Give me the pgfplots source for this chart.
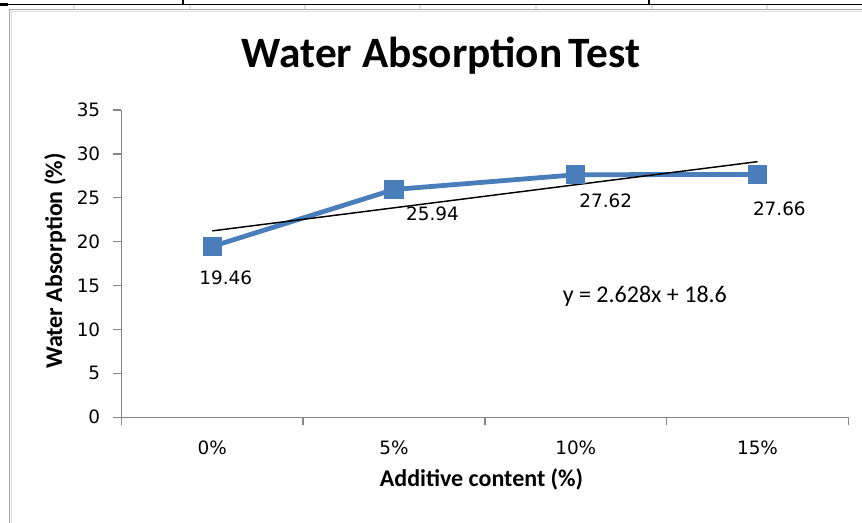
\documentclass[border=0pt]{standalone}
\usepackage{pgfplots}
\pgfplotsset{compat=1.18}
\usepackage{fontspec}
\setmainfont{Carlito}
\newfontfamily\dejavu{DejaVu Sans}
\definecolor{serblue}{HTML}{4A7EBB}
\definecolor{axgray}{HTML}{868686}
\begin{document}
\begin{tikzpicture}
\begin{scope}[x=0.75pt,y=0.75pt]
\useasboundingbox (0,0) rectangle (862,523);
% surrounding sheet decorations
\foreach \gx in {74,190,305,420,536,652,767}{\draw[gray!25, line width=0.8pt] (\gx,518.5) -- (\gx,513.5);}
\draw[black, line width=0.9pt] (0,518.5) -- (862,518.5);
\fill[black] (0,517.3) rectangle (8,519.5);
\draw[black, line width=1.2pt] (183,523) -- (183,518.5);
\draw[black, line width=1.2pt] (649,523) -- (649,518.5);
\draw[gray!70, line width=1.4pt] (9.5,0) -- (9.5,513.5) -- (862,513.5);
\draw[gray!25, line width=1pt] (11.5,0) -- (11.5,511.5) -- (862,511.5);
\node[font=\bfseries\fontsize{32.5}{34}\selectfont, anchor=base] at (441,455) {Water Absorption\hspace{-0.08em} Test};
\node[rotate=90, font=\bfseries\fontsize{18}{20}\selectfont, anchor=base] at (62,262) {Water Absorption (\%)};
\node[font=\bfseries\fontsize{18}{20}\selectfont, anchor=base] at (481.5,36.5) {Additive content (\%)};
\end{scope}
\begin{axis}[
  at={(91.05pt,79.28pt)}, anchor=south west,
  width=545.25pt, height=230.5pt, scale only axis,
  xmin=-0.5, xmax=3.5, ymin=0, ymax=35,
  axis x line*=bottom, axis y line*=left,
  axis line style={axgray, line width=1.1pt},
  tick style={axgray, line width=1.1pt},
  tick align=outside,
  major tick length=6pt,
  ytick={0,5,...,35},
  xtick={-0.5,0.5,1.5,2.5,3.5},
  xticklabel=\empty,
  extra x ticks={0,1,2,3},
  extra x tick labels={0\%,5\%,10\%,15\%},
  extra x tick style={major tick length=0pt, xticklabel style={font=\dejavu\fontsize{13.8}{14}\selectfont, anchor=north, inner sep=0pt, yshift=-17.6pt}},
  yticklabel style={font=\dejavu\fontsize{13.8}{14}\selectfont, anchor=east, inner sep=0pt, xshift=-9.7pt},
  /pgf/number format/assume math mode=true,
  clip=false,
]
\addplot[serblue, line width=3.6pt, mark=square*, mark size=6.8pt,
  mark options={solid, fill=serblue, draw=serblue, line width=0pt}]
  coordinates {(0,19.46) (1,25.94) (2,27.62) (3,27.66)};
\addplot[black, line width=1.1pt, no marks] coordinates {(0,21.228) (3,29.112)};
\node[font=\dejavu\fontsize{13.8}{14}\selectfont, anchor=base] at (axis cs:0.074,15.13) {19.46};
\node[font=\dejavu\fontsize{13.8}{14}\selectfont, anchor=base] at (axis cs:1.212,22.43) {25.94};
\node[font=\dejavu\fontsize{13.8}{14}\selectfont, anchor=base] at (axis cs:2.165,23.91) {27.62};
\node[font=\dejavu\fontsize{13.8}{14}\selectfont, anchor=base] at (axis cs:3.12,23.0) {27.66};
\node[font=\fontsize{18}{20}\selectfont, anchor=base] at (axis cs:2.38,13.11) {y = 2.628x + 18.6};
\end{axis}
\end{tikzpicture}
\end{document}
